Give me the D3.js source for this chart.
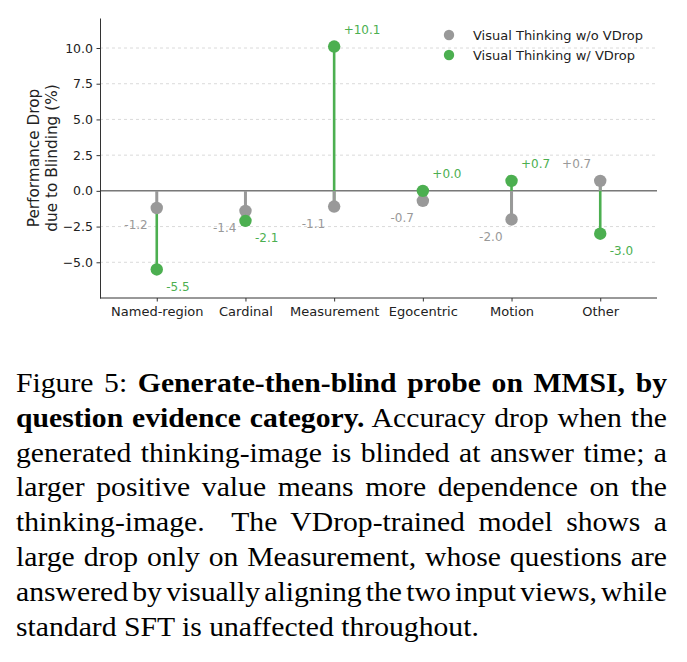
<!DOCTYPE html>
<html>
<head>
<meta charset="utf-8">
<script src="https://cdn.jsdelivr.net/npm/d3@7"></script>
<style>
  body { margin: 0; background: #fff; }
  svg { display: block; }
  .caption { font-family: "Liberation Serif", "Times New Roman", Times, serif; }
</style>
</head>
<body>
<div id="chart"></div>
<script>
// data
var categories = ["Named-region", "Cardinal", "Measurement", "Egocentric", "Motion", "Other"];
var withoutVDrop = [-1.2, -1.4, -1.1, -0.7, -2.0, 0.7];
var withVDrop = [-5.5, -2.1, 10.1, 0.0, 0.7, -3.0];
var yTicks = [-5, -2.5, 0, 2.5, 5, 7.5, 10];
var seriesNames = ["Visual Thinking w/o VDrop", "Visual Thinking w/ VDrop"];
var yLabelLines = ["Performance Drop", "due to Blinding (%)"];
var captionLines = [
    [["Figure 5: ", false], ["Generate-then-blind probe on MMSI, by", true]],
    [["question evidence category.", true], [" Accuracy drop when the", false]],
    [["generated thinking-image is blinded at answer time; a", false]],
    [["larger positive value means more dependence on the", false]],
    [["thinking-image.  The VDrop-trained model shows a", false]],
    [["large drop only on Measurement, whose questions are", false]],
    [["answered by visually aligning the two input views, while", false]],
    [["standard SFT is unaffected throughout.", false]]
];

var gray = "#999999", green = "#4caf50", ink = "#222";
var width = 687, height = 662;
var margin = {top: 18, right: 30, bottom: 364, left: 100};

var svg = d3.select("#chart")
    .append("svg")
    .attr("width", width)
    .attr("height", height);

var x = d3.scalePoint()
    .domain(categories)
    .range([margin.left, width - margin.right])
    .padding(0.64);

var y = d3.scaleLinear()
    .domain([-7.5, 12.1])
    .range([height - margin.bottom, margin.top]);

var sans = "DejaVu Sans, sans-serif";

// dashed y grid
svg.append("g")
    .selectAll("line")
    .data(yTicks.filter(function(d) { return d !== 0; }))
    .enter()
    .append("line")
    .attr("x1", margin.left)
    .attr("x2", width - margin.right)
    .attr("y1", function(d) { return y(d); })
    .attr("y2", function(d) { return y(d); })
    .attr("stroke", "#d0d0d0")
    .attr("stroke-width", 0.8)
    .attr("stroke-dasharray", "3,3");

// zero line
svg.append("line")
    .attr("x1", margin.left)
    .attr("x2", width - margin.right)
    .attr("y1", y(0))
    .attr("y2", y(0))
    .attr("stroke", "#333")
    .attr("stroke-width", 1);

// axes
var yAxis = svg.append("g")
    .attr("transform", "translate(" + margin.left + ",0)")
    .call(d3.axisLeft(y).tickValues(yTicks).tickFormat(d3.format(".1f"))
        .tickSize(3.5).tickPadding(3.5).tickSizeOuter(0));
yAxis.select(".domain").attr("stroke", "#333");
yAxis.selectAll(".tick line").attr("stroke", "#333");
yAxis.selectAll("text").attr("font-family", sans).attr("font-size", 12.5).attr("fill", ink);

var xAxis = svg.append("g")
    .attr("transform", "translate(0," + (height - margin.bottom) + ")")
    .call(d3.axisBottom(x).tickSize(3.5).tickPadding(5).tickSizeOuter(0));
xAxis.select(".domain").attr("stroke", "#333")
    .attr("d", "M" + margin.left + ",0H" + (width - margin.right));
xAxis.selectAll(".tick line").attr("stroke", "#333");
xAxis.selectAll("text").attr("font-family", sans).attr("font-size", 13).attr("fill", ink);

// y label, two lines
svg.append("g")
    .selectAll("text")
    .data(yLabelLines)
    .enter()
    .append("text")
    .attr("transform", function(d, i) {
        return "translate(" + (38.5 + i * 18) + "," + ((y.range()[0] + y.range()[1]) / 2) + ") rotate(-90)";
    })
    .attr("text-anchor", "middle")
    .attr("font-family", sans)
    .attr("font-size", 15.3)
    .attr("fill", ink)
    .text(function(d) { return d; });

var rows = categories.map(function(c, i) {
    return {cat: c, wo: withoutVDrop[i], w: withVDrop[i]};
});

// green connector from w/o value to w/ value
svg.append("g")
    .selectAll("line")
    .data(rows)
    .enter()
    .append("line")
    .attr("x1", function(d) { return x(d.cat); })
    .attr("x2", function(d) { return x(d.cat); })
    .attr("y1", function(d) { return y(d.wo); })
    .attr("y2", function(d) { return y(d.w); })
    .attr("stroke", green)
    .attr("stroke-width", 2.6);

// gray stem from zero
svg.append("g")
    .selectAll("line")
    .data(rows)
    .enter()
    .append("line")
    .attr("x1", function(d) { return x(d.cat); })
    .attr("x2", function(d) { return x(d.cat); })
    .attr("y1", y(0))
    .attr("y2", function(d) { return y(d.wo); })
    .attr("stroke", gray)
    .attr("stroke-width", 3);

svg.append("g")
    .selectAll("circle")
    .data(rows)
    .enter()
    .append("circle")
    .attr("cx", function(d) { return x(d.cat); })
    .attr("cy", function(d) { return y(d.wo); })
    .attr("r", 6.2)
    .attr("fill", gray);

svg.append("g")
    .selectAll("circle")
    .data(rows)
    .enter()
    .append("circle")
    .attr("cx", function(d) { return x(d.cat); })
    .attr("cy", function(d) { return y(d.w); })
    .attr("r", 6.2)
    .attr("fill", green);

function fmt(v) {
    return (v >= 0 ? "+" : "-") + Math.abs(v).toFixed(1);
}

// value labels
svg.append("g")
    .selectAll("text")
    .data(rows)
    .enter()
    .append("text")
    .attr("x", function(d) { return x(d.cat) - 9; })
    .attr("y", function(d) { return y(d.wo) + (d.wo >= 0 ? -17 : 17); })
    .attr("dy", "0.35em")
    .attr("text-anchor", "end")
    .attr("font-family", sans)
    .attr("font-size", 12)
    .attr("fill", gray)
    .text(function(d) { return fmt(d.wo); });

svg.append("g")
    .selectAll("text")
    .data(rows)
    .enter()
    .append("text")
    .attr("x", function(d) { return x(d.cat) + 9.5; })
    .attr("y", function(d) { return y(d.w) + (d.w >= 0 ? -17 : 17); })
    .attr("dy", "0.35em")
    .attr("text-anchor", "start")
    .attr("font-family", sans)
    .attr("font-size", 12)
    .attr("fill", green)
    .text(function(d) { return fmt(d.w); });

// legend
var legend = svg.append("g")
    .selectAll("g")
    .data(seriesNames)
    .enter()
    .append("g")
    .attr("transform", function(d, i) { return "translate(449," + (35 + i * 20) + ")"; });
legend.append("circle")
    .attr("r", 5.2)
    .attr("fill", function(d, i) { return i === 0 ? gray : green; });
legend.append("text")
    .attr("x", 24)
    .attr("dy", "0.35em")
    .attr("font-family", sans)
    .attr("font-size", 13)
    .attr("fill", ink)
    .text(function(d) { return d; });

// caption, justified line by line
var capLeft = 16, capRight = 667, sx = 1.06;
var cap = svg.append("g").attr("class", "caption");
captionLines.forEach(function(parts, i) {
    var t = cap.append("text")
        .attr("transform", "translate(" + capLeft + "," + (392 + i * 34.8) + ") scale(" + sx + ",1)")
        .attr("font-size", 28)
        .attr("fill", "#000")
        .style("white-space", "pre");
    var spaces = 0;
    parts.forEach(function(p) {
        t.append("tspan")
            .attr("font-weight", p[1] ? "bold" : "normal")
            .text(p[0]);
        spaces += (p[0].match(/ /g) || []).length;
    });
    if (i < captionLines.length - 1 && spaces > 0) {
        var natural = t.node().getComputedTextLength();
        var target = (capRight - capLeft) / sx;
        t.attr("word-spacing", (target - natural) / spaces);
    }
});
</script>
</body>
</html>
